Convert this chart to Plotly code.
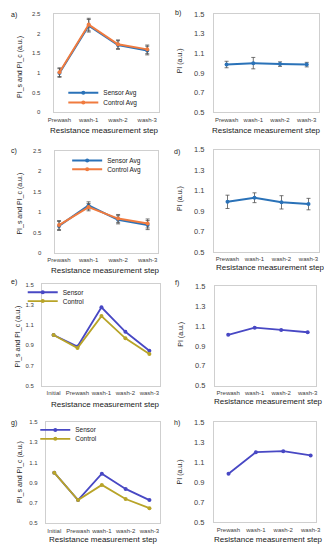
import plotly.graph_objects as go

# ---------------- data ----------------
steps4 = ["Prewash", "wash-1", "wash-2", "wash-3"]
steps5 = ["Initial", "Prewash", "wash-1", "wash-2", "wash-3"]

a_sensor = [1.00, 2.20, 1.71, 1.57]
a_sensor_err = [0.11, 0.16, 0.11, 0.11]
a_control = [1.02, 2.23, 1.73, 1.60]
a_control_err = [0.11, 0.16, 0.11, 0.11]

b_pi = [0.986, 1.000, 0.990, 0.985]
b_err = [0.033, 0.058, 0.023, 0.023]

c_sensor = [0.66, 1.16, 0.81, 0.68]
c_sensor_err = [0.11, 0.09, 0.10, 0.11]
c_control = [0.68, 1.12, 0.84, 0.72]
c_control_err = [0.11, 0.09, 0.10, 0.11]

d_pi = [0.990, 1.030, 0.985, 0.968]
d_err = [0.065, 0.048, 0.065, 0.056]

e_sensor = [1.000, 0.887, 1.274, 1.032, 0.845]
e_control = [1.000, 0.871, 1.187, 0.968, 0.813]

f_pi = [1.012, 1.084, 1.061, 1.038]

g_sensor = [1.00, 0.73, 0.99, 0.84, 0.73]
g_control = [1.00, 0.73, 0.88, 0.74, 0.65]

h_pi = [0.985, 1.200, 1.210, 1.168]

# ---------------- styling ----------------
OFF = 8                      # page body margin of the browser
W, H = 332 - OFF, 550 - OFF  # figure size so that the page fills 332x550
FONT = "Liberation Sans"
BLUE = "#2a72b8"
ORANGE = "#f07b3f"
PURPLE = "#4848c4"
OLIVE = "#b8a428"
ERR = "#505050"
FRAME = "#cfcfcf"
TXT = "#404040"


def px(x):
    return (x - OFF) / W


def py(y):
    return 1 - (y - OFF) / H


fig = go.Figure()

# panel boxes in screen pixels: (x0, x1, ytop, ybottom), x range, y range
panels = {
    "a": dict(box=(48, 157, 10, 110), xr=[-0.2, 3.4], yr=[0, 2.5], dt=0.5, t0=0, left=True),
    "b": dict(box=(214, 323, 10, 110), xr=[-0.47, 3.47], yr=[0.5, 1.5], dt=0.2, t0=0.5, left=False),
    "c": dict(box=(49, 156, 149, 253), xr=[-0.15, 3.35], yr=[0, 2.5], dt=0.5, t0=0, left=True),
    "d": dict(box=(214, 323, 148, 252), xr=[-0.5, 3.4], yr=[0.5, 1.5], dt=0.2, t0=0.5, left=False),
    "e": dict(box=(36, 158, 285, 388), xr=[-0.48, 4.44], yr=[0.5, 1.5], dt=0.2, t0=0.5, left=True),
    "f": dict(box=(215, 320, 287, 388), xr=[-0.5, 3.33], yr=[0.5, 1.5], dt=0.2, t0=0.5, left=False),
    "g": dict(box=(40, 158, 425, 528), xr=[-0.35, 4.44], yr=[0.5, 1.5], dt=0.2, t0=0.5, left=True),
    "h": dict(box=(214, 320, 425, 527), xr=[-0.53, 3.21], yr=[0.5, 1.5], dt=0.2, t0=0.5, left=False),
}

layout_axes = {}
ax_ids = {}
for i, (key, p) in enumerate(panels.items(), start=1):
    x0, x1, yt, yb = p["box"]
    xa = "xaxis" if i == 1 else f"xaxis{i}"
    ya = "yaxis" if i == 1 else f"yaxis{i}"
    xref = "x" if i == 1 else f"x{i}"
    yref = "y" if i == 1 else f"y{i}"
    ax_ids[key] = (xref, yref)
    layout_axes[xa] = dict(
        domain=[px(x0), px(x1)], anchor=yref, range=p["xr"], type="category",
        showline=True, mirror=True, linecolor=FRAME, linewidth=1,
        showgrid=False, zeroline=False, ticks="", tickangle=0,
        tickfont=dict(size=6, color=TXT, family=FONT), ticklabelstandoff=1,
    )
    layout_axes[ya] = dict(
        domain=[py(yb), py(yt)], anchor=xref, range=p["yr"],
        tick0=p["t0"], dtick=p["dt"],
        showline=True, mirror=True, linecolor=FRAME, linewidth=1,
        showgrid=False, zeroline=False, ticks="",
        tickfont=dict(size=6 if p["left"] else 7.5, color=TXT, family=FONT),
        ticklabelstandoff=11 if key in ("a", "c") else (6 if p["left"] else 7),
    )


def line(key, x, y, color, name, err=None, legend=None, width=2, msize=4):
    xr, yr = ax_ids[key]
    tr = go.Scatter(
        x=x, y=y, mode="lines+markers", name=name, xaxis=xr, yaxis=yr,
        line=dict(color=color, width=width), marker=dict(color=color, size=msize),
        showlegend=legend is not None,
    )
    if err is not None:
        tr.error_y = dict(type="data", array=err, visible=True, color=ERR, thickness=0.8, width=2)
    if legend is not None:
        tr.legend = legend
    fig.add_trace(tr)


line("a", steps4, a_sensor, BLUE, "Sensor Avg", a_sensor_err, "legend")
line("a", steps4, a_control, ORANGE, "Control Avg", a_control_err, "legend2")
line("b", steps4, b_pi, BLUE, "PI", b_err)
line("c", steps4, c_sensor, BLUE, "Sensor Avg", c_sensor_err, "legend3")
line("c", steps4, c_control, ORANGE, "Control Avg", c_control_err, "legend4")
line("d", steps4, d_pi, BLUE, "PI", d_err)
line("e", steps5, e_sensor, PURPLE, "Sensor", None, "legend5", 1.8, 4)
line("e", steps5, e_control, OLIVE, "Control", None, "legend6", 1.8, 4)
line("f", steps4, f_pi, PURPLE, "PI", None, None, 1.8, 4)
line("g", steps5, g_sensor, PURPLE, "Sensor", None, "legend7", 1.8, 4)
line("g", steps5, g_control, OLIVE, "Control", None, "legend8", 1.8, 4)
line("h", steps4, h_pi, PURPLE, "PI", None, None, 1.8, 4)


def leg(text_x, yc):
    # text_x: screen x where the entry text begins; yc: screen y of the entry centre
    return dict(
        x=px(text_x - 44), y=py(yc), xanchor="left", yanchor="middle",
        bgcolor="rgba(0,0,0,0)", borderwidth=0, tracegroupgap=0,
        font=dict(size=6.5, color="#202020", family=FONT), itemwidth=30,
    )


legends = dict(
    legend=leg(102, 90), legend2=leg(102, 100),
    legend3=leg(106, 159), legend4=leg(106, 168),
    legend5=leg(60, 293), legend6=leg(60, 302),
    legend7=leg(73, 433), legend8=leg(73, 442),
)

annotations = []
labels = {"a": (7, 11), "b": (177, 9), "c": (7, 149), "d": (176, 150),
          "e": (7, 283), "f": (176, 284), "g": (7, 426), "h": (176, 426)}
for k, (x, y) in labels.items():
    annotations.append(dict(text=f"{k})", x=px(x), y=py(y), xref="paper", yref="paper",
                            showarrow=False, xanchor="center", yanchor="middle",
                            font=dict(size=7, color="#202020", family=FONT)))

xtitles = [(101, 128), (268, 128), (102, 271), (272, 268), (102, 407), (270, 404), (100, 544), (270, 544)]
for x, y in xtitles:
    annotations.append(dict(text="Resistance measurement step", x=px(x), y=py(y),
                            xref="paper", yref="paper", showarrow=False,
                            xanchor="center", yanchor="middle",
                            font=dict(size=8, color="#202020", family=FONT)))

ytitles = [(13, 64, "PI_s and PI_c (a.u.)"), (179, 58, "PI (a.u.)"),
           (13, 203, "PI_s and PI_c (a.u.)"), (179, 198, "PI (a.u.)"),
           (11, 338, "PI_s and PI_c (a.u.)"), (179, 336, "PI (a.u.)"),
           (13, 476, "PI_s and PI_c (a.u.)"), (179, 476, "PI (a.u.)")]
for x, y, t in ytitles:
    annotations.append(dict(text=t, x=px(x), y=py(y), xref="paper", yref="paper",
                            showarrow=False, textangle=-90, xanchor="center", yanchor="middle",
                            font=dict(size=7, color="#202020", family=FONT)))

fig.update_layout(
    width=W, height=H, margin=dict(l=0, r=0, t=0, b=0),
    paper_bgcolor="white", plot_bgcolor="white",
    font=dict(family=FONT, color=TXT),
    annotations=annotations,
    **legends,
    **layout_axes,
)

fig.write_html("out.html")
